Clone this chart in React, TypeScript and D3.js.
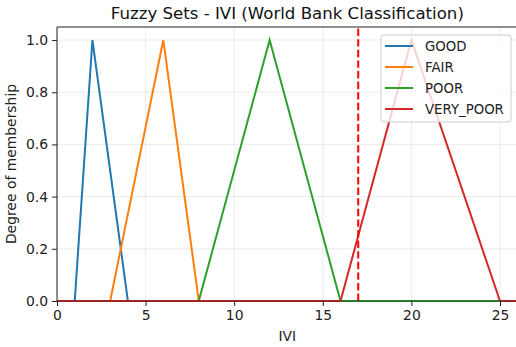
import { useEffect, useRef } from 'react';
import * as d3 from 'd3';

// membership functions: triangle vertices (a, peak, c) on the IVI axis
const setNames = ['GOOD', 'FAIR', 'POOR', 'VERY_POOR'];
const setColors = ['#1f77b4', '#ff7f0e', '#2ca02c', '#d62728'];
const triangles = [
  [1, 2, 4],
  [3, 6, 8],
  [8, 12, 16],
  [16, 20, 25],
];
const xTicks = [0, 5, 10, 15, 20, 25];
const yTicks = [0, 0.2, 0.4, 0.6, 0.8, 1.0];
const cutValue = 17;
const xMax = 26;

const App = () => {
  const ref = useRef<SVGSVGElement>(null);

  useEffect(() => {
    const H = 347;
    const margin = { top: 27, left: 57, bottom: 46 };
    const plotRight = 517.7;
    const height = H - margin.top - margin.bottom;
    const font = 'DejaVu Sans, sans-serif';
    const fs = 13.9;

    const svg = d3.select(ref.current);
    svg.selectAll('*').remove();

    const x = d3.scaleLinear().domain([0, xMax]).range([margin.left, plotRight]);
    const y = d3.scaleLinear().domain([0, 1.05]).range([margin.top + height, margin.top]);

    // grid
    const grid = svg.append('g');
    xTicks.forEach(t => {
      grid.append('line')
        .attr('x1', x(t)).attr('x2', x(t))
        .attr('y1', y(0)).attr('y2', y(1.05))
        .attr('stroke', '#b0b0b0').attr('stroke-opacity', 0.3).attr('stroke-width', 0.8);
    });
    yTicks.forEach(t => {
      grid.append('line')
        .attr('x1', x(0)).attr('x2', plotRight)
        .attr('y1', y(t)).attr('y2', y(t))
        .attr('stroke', '#b0b0b0').attr('stroke-opacity', 0.3).attr('stroke-width', 0.8);
    });

    // membership curves
    const line = d3.line<number[]>().x(d => x(d[0])).y(d => y(d[1]));
    triangles.forEach((tri, i) => {
      const pts = [[0, 0], [tri[0], 0], [tri[1], 1], [tri[2], 0], [xMax, 0]];
      svg.append('path')
        .datum(pts)
        .attr('fill', 'none')
        .attr('stroke', setColors[i])
        .attr('stroke-width', 2)
        .attr('d', line);
    });

    // cut line
    svg.append('line')
      .attr('x1', x(cutValue)).attr('x2', x(cutValue))
      .attr('y1', y(0)).attr('y2', y(1.05))
      .attr('stroke', '#ff0000').attr('stroke-width', 2)
      .attr('stroke-dasharray', '7.4,3.2');

    // spines
    svg.append('line')
      .attr('x1', x(0)).attr('x2', x(0)).attr('y1', y(0)).attr('y2', y(1.05))
      .attr('stroke', '#222').attr('stroke-width', 1);
    svg.append('line')
      .attr('x1', x(0)).attr('x2', plotRight).attr('y1', y(1.05)).attr('y2', y(1.05))
      .attr('stroke', '#222').attr('stroke-width', 1);
    svg.append('line')
      .attr('x1', x(0)).attr('x2', plotRight).attr('y1', y(0)).attr('y2', y(0))
      .attr('stroke', '#222').attr('stroke-width', 1).attr('stroke-opacity', 0.6);

    // axes
    const xAxis = svg.append('g')
      .attr('transform', `translate(0,${y(0)})`)
      .call(d3.axisBottom(x).tickValues(xTicks).tickFormat(d3.format('d')).tickSize(5).tickPadding(4));
    const yAxis = svg.append('g')
      .attr('transform', `translate(${x(0)},0)`)
      .call(d3.axisLeft(y).tickValues(yTicks).tickFormat(d3.format('.1f')).tickSize(5).tickPadding(4));
    [xAxis, yAxis].forEach(a => {
      a.select('.domain').remove();
      a.selectAll('line').attr('stroke', '#222');
      a.selectAll('text').attr('font-family', font).attr('font-size', fs).attr('fill', '#222');
    });

    // titles
    svg.append('text')
      .attr('x', (x(0) + plotRight) / 2).attr('y', 19)
      .attr('text-anchor', 'middle')
      .attr('font-family', font).attr('font-size', 16.6).attr('fill', '#111')
      .text('Fuzzy Sets - IVI (World Bank Classification)');
    svg.append('text')
      .attr('x', (x(0) + plotRight) / 2).attr('y', 341)
      .attr('text-anchor', 'middle')
      .attr('font-family', font).attr('font-size', fs).attr('fill', '#222')
      .text('IVI');
    svg.append('text')
      .attr('transform', `translate(16,${(y(0) + y(1.05)) / 2}) rotate(-90)`)
      .attr('text-anchor', 'middle')
      .attr('font-family', font).attr('font-size', fs).attr('fill', '#222')
      .text('Degree of membership');

    // legend
    const lg = svg.append('g').attr('transform', 'translate(381,35)');
    lg.append('rect')
      .attr('width', 130).attr('height', 87).attr('rx', 3)
      .attr('fill', 'white').attr('fill-opacity', 0.8)
      .attr('stroke', '#cccccc').attr('stroke-width', 1);
    setNames.forEach((name, i) => {
      const cy = 11 + i * 21;
      lg.append('line')
        .attr('x1', 4).attr('x2', 32).attr('y1', cy).attr('y2', cy)
        .attr('stroke', setColors[i]).attr('stroke-width', 2);
      lg.append('text')
        .attr('x', 44).attr('y', cy + 5)
        .attr('font-family', font).attr('font-size', 13.3).attr('fill', '#222')
        .text(name);
    });
  }, []);

  return (
    <svg ref={ref} width={516} height={347}
      style={{ position: 'absolute', left: 0, top: 0, background: 'white', overflow: 'hidden' }} />
  );
};

export default App;
